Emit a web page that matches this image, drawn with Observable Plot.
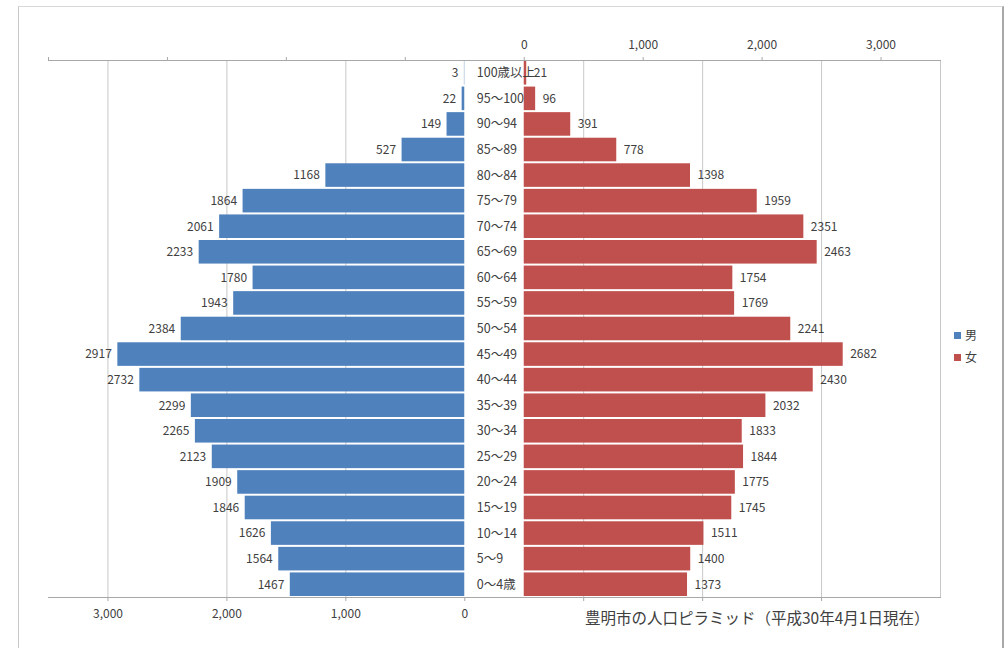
<!DOCTYPE html>
<html>
<head>
<meta charset="utf-8">
<script src="https://cdn.jsdelivr.net/npm/d3@7"></script>
<script src="https://cdn.jsdelivr.net/npm/@observablehq/plot@0.6"></script>
<style>
  html, body { margin: 0; padding: 0; background: #fff; }
  #wrap { position: relative; width: 1008px; height: 648px; overflow: hidden; font-family: "Liberation Sans Narrow", "Noto Sans CJK JP", sans-serif; }
  #border { position: absolute; left: 18px; top: 6px; width: 986px; height: 660px; border-left: 1px solid #c8c8c8; border-top: 1px solid #d8d8d8; border-right: 2px solid #a8a8a8; box-sizing: border-box; }
  #caption { position: absolute; left: 585px; top: 606px; font-size: 15.5px; color: #404040; font-family: "Noto Sans CJK JP", sans-serif; white-space: nowrap; }
  #legend { position: absolute; left: 954px; top: 324px; font-size: 12px; color: #404040; font-family: "Noto Sans CJK JP", sans-serif; line-height: 22px; }
  #legend .sw { display: inline-block; width: 7px; height: 7px; margin-right: 4px; vertical-align: 1px; }
  svg { position: absolute; left: 0; top: 0; }
</style>
</head>
<body>
<div id="wrap">
  <div id="border"></div>
  <div id="chart"></div>
  <div id="legend"></div>
  <div id="caption"></div>
</div>
<script>
const ages = ["100歳以上","95～100","90～94","85～89","80～84","75～79","70～74","65～69","60～64","55～59","50～54","45～49","40～44","35～39","30～34","25～29","20～24","15～19","10～14","5～9","0～4歳"];
const male = [3,22,149,527,1168,1864,2061,2233,1780,1943,2384,2917,2732,2299,2265,2123,1909,1846,1626,1564,1467];
const female = [21,96,391,778,1398,1959,2351,2463,1754,1769,2241,2682,2430,2032,1833,1844,1775,1745,1511,1400,1373];
const seriesNames = ["男","女"];
const seriesColors = ["#4F81BD","#C0504D"];
const topTicks = [-4000,-3000,-2000,-1000,0,1000,2000,3000];
const bottomTicks = [3000,2000,1000,0,-1000,-2000,-3000];
const captionText = "豊明市の人口ピラミッド（平成30年4月1日現在）";

const OFFSET = -500; // male zero position in female-axis units
const rows = ages.map((a, i) => ({age: a, male: male[i], female: female[i]}));
const fmt = d3.format(",");
const mx = v => OFFSET - v;

const plot = Plot.plot({
  width: 1008,
  height: 648,
  marginLeft: 48,
  marginRight: 68,
  marginTop: 60,
  marginBottom: 51,
  style: {fontFamily: "'Liberation Sans Narrow', 'Noto Sans CJK JP', sans-serif", fontSize: "12px", color: "#404040", background: "transparent"},
  x: {domain: [-4000, 3500], label: null},
  y: {type: "band", domain: ages, padding: 0, round: false, axis: null, label: null},
  marks: [
    Plot.ruleX(bottomTicks.filter(t => t !== 0).map(mx), {stroke: "#c8c8c8", strokeWidth: 1}),
    Plot.ruleX([3500], {stroke: "#c8c8c8", strokeWidth: 1}),
    Plot.barX(rows, {x1: OFFSET, x2: d => mx(d.male), y: "age", fill: seriesColors[0], insetTop: 1, insetBottom: 1}),
    Plot.barX(rows, {x1: 0, x2: "female", y: "age", fill: seriesColors[1], insetTop: 1, insetBottom: 1}),
    Plot.text(rows, {x: d => mx(d.male), y: "age", text: d => String(d.male), textAnchor: "end", dx: -6, fill: "#404040", fontSize: 12}),
    Plot.text(rows, {x: "female", y: "age", text: d => String(d.female), textAnchor: "start", dx: 7, fill: "#404040", fontSize: 12}),
    Plot.text(rows, {x: OFFSET, y: "age", text: "age", textAnchor: "start", dx: 12, fill: "#404040", fontSize: 12.5, fontFamily: "'Noto Sans CJK JP', sans-serif"}),
    Plot.frame({anchor: "top", stroke: "#a8a8a8"}),
    Plot.frame({anchor: "bottom", stroke: "#a8a8a8"}),
    Plot.axisX({anchor: "top", label: null, ticks: topTicks, tickSize: 4, tickPadding: 8, tickFormat: d => d >= 0 ? fmt(d) : "", stroke: "#a8a8a8", fill: "#404040", fontSize: 12}),
    Plot.axisX({anchor: "bottom", label: null, ticks: bottomTicks.map(mx), tickSize: 4, tickPadding: 8, tickFormat: v => { const t = OFFSET - v; return t >= 0 ? fmt(t) : ""; }, stroke: "#a8a8a8", fill: "#404040", fontSize: 12})
  ]
});
document.getElementById("chart").appendChild(plot);

const legend = document.getElementById("legend");
seriesNames.forEach((n, i) => {
  const row = document.createElement("div");
  const sw = document.createElement("span");
  sw.className = "sw";
  sw.style.background = seriesColors[i];
  row.appendChild(sw);
  row.appendChild(document.createTextNode(n));
  legend.appendChild(row);
});
document.getElementById("caption").textContent = captionText;
</script>
</body>
</html>
